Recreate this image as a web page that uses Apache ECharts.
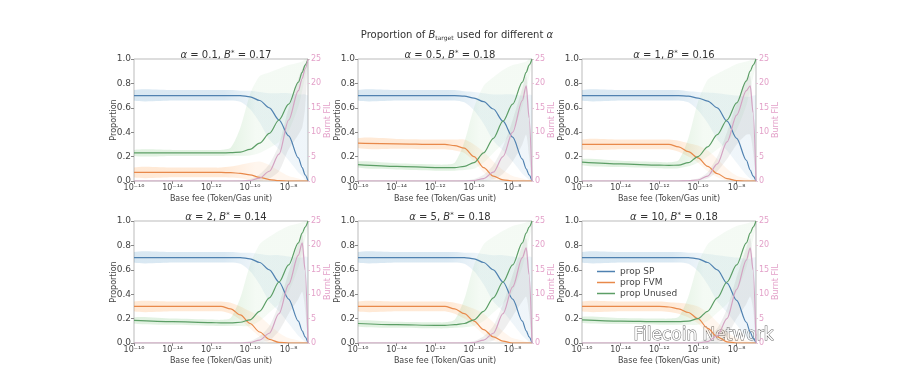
<!DOCTYPE html>
<html>
<head>
<meta charset="utf-8">
<script src="https://cdn.jsdelivr.net/npm/echarts@6/dist/echarts.min.js"></script>
<style>
html, body { margin: 0; background: #fff; }
#main { width: 909px; height: 376px; }
</style>
</head>
<body>
<div id="main"></div>
<script>
// x = exponent of base fee (10^x Token/Gas unit)
var xs = [-16, -14, -12, -11.5, -11, -10.5, -10, -9.5, -9, -8.5, -8, -7.5, -7.3, -7.15, -7];
var alphas = ['0.1', '0.5', '1', '2', '5', '10'];
var bStar = ['0.17', '0.18', '0.16', '0.14', '0.18', '0.18'];

// 每个子图一行
var propSP = [
    [0.70, 0.70, 0.70, 0.70, 0.70, 0.70, 0.69, 0.66, 0.60, 0.50, 0.37, 0.19, 0.11, 0.05, 0.00],
    [0.70, 0.70, 0.70, 0.70, 0.70, 0.695, 0.68, 0.65, 0.59, 0.49, 0.36, 0.18, 0.10, 0.05, 0.00],
    [0.70, 0.70, 0.70, 0.70, 0.70, 0.695, 0.68, 0.655, 0.60, 0.49, 0.35, 0.17, 0.09, 0.04, 0.00],
    [0.70, 0.70, 0.70, 0.70, 0.70, 0.70, 0.69, 0.66, 0.60, 0.50, 0.36, 0.18, 0.10, 0.05, 0.00],
    [0.70, 0.70, 0.70, 0.70, 0.70, 0.70, 0.69, 0.66, 0.60, 0.50, 0.36, 0.18, 0.10, 0.05, 0.00],
    [0.70, 0.70, 0.70, 0.70, 0.70, 0.70, 0.69, 0.66, 0.60, 0.49, 0.35, 0.17, 0.09, 0.04, 0.00]
];
var propFVM = [
    [0.07, 0.07, 0.07, 0.07, 0.068, 0.063, 0.05, 0.03, 0.012, 0.003, 0, 0, 0, 0, 0],
    [0.31, 0.305, 0.30, 0.30, 0.29, 0.27, 0.20, 0.11, 0.04, 0.01, 0, 0, 0, 0, 0],
    [0.30, 0.30, 0.30, 0.30, 0.28, 0.24, 0.19, 0.12, 0.06, 0.02, 0.003, 0, 0, 0, 0],
    [0.30, 0.30, 0.30, 0.30, 0.28, 0.23, 0.16, 0.09, 0.03, 0.005, 0, 0, 0, 0, 0],
    [0.30, 0.30, 0.30, 0.30, 0.28, 0.24, 0.18, 0.11, 0.05, 0.015, 0, 0, 0, 0, 0],
    [0.30, 0.30, 0.30, 0.295, 0.28, 0.25, 0.20, 0.12, 0.05, 0.01, 0, 0, 0, 0, 0]
];
var propUnused = [
    [0.23, 0.23, 0.23, 0.23, 0.232, 0.237, 0.26, 0.31, 0.39, 0.50, 0.63, 0.81, 0.89, 0.95, 1.0],
    [0.135, 0.12, 0.11, 0.11, 0.11, 0.12, 0.15, 0.23, 0.35, 0.49, 0.63, 0.81, 0.89, 0.95, 1.0],
    [0.155, 0.14, 0.13, 0.128, 0.13, 0.15, 0.20, 0.28, 0.38, 0.50, 0.64, 0.82, 0.90, 0.95, 1.0],
    [0.185, 0.175, 0.167, 0.165, 0.165, 0.17, 0.19, 0.26, 0.37, 0.50, 0.64, 0.82, 0.90, 0.95, 1.0],
    [0.16, 0.15, 0.145, 0.145, 0.15, 0.16, 0.19, 0.26, 0.37, 0.50, 0.64, 0.82, 0.90, 0.95, 1.0],
    [0.19, 0.18, 0.175, 0.175, 0.175, 0.18, 0.20, 0.26, 0.37, 0.50, 0.64, 0.82, 0.90, 0.95, 1.0]
];
var burntFIL = [
    [0, 0, 0, 0, 0, 0, 0.1, 0.6, 2, 5.5, 12.5, 18.5, 21, 23, 25],
    [0, 0, 0, 0, 0, 0, 0.1, 0.5, 1.8, 5, 10, 16.5, 19.5, 13, 0],
    [0, 0, 0, 0, 0, 0.05, 0.2, 1, 3.5, 8, 13.5, 18.5, 19.5, 14, 0],
    [0, 0, 0, 0, 0, 0, 0.1, 0.6, 2, 6, 12, 18, 20.5, 15, 0],
    [0, 0, 0, 0, 0, 0, 0.1, 0.6, 2, 6, 11.5, 17.5, 19.5, 14, 0],
    [0, 0, 0, 0, 0, 0, 0, 0.3, 1.5, 5, 11, 17, 19.5, 15, 0]
];

// 置信带宽度 (below / above the mean)
var spLo = [0.04, 0.04, 0.04, 0.04, 0.04, 0.05, 0.1, 0.18, 0.26, 0.24, 0.2, 0.12, 0.07, 0.04, 0];
var spHi = [0.045, 0.045, 0.045, 0.045, 0.045, 0.04, 0.05, 0.07, 0.12, 0.22, 0.35, 0.52, 0.6, 0.66, 0.7];
var fvmLo = [0.04, 0.04, 0.04, 0.04, 0.04, 0.04, 0.04, 0.04, 0.03, 0.02, 0, 0, 0, 0, 0];
var fvmHi = [0.04, 0.04, 0.04, 0.04, 0.05, 0.07, 0.1, 0.13, 0.12, 0.08, 0.04, 0.02, 0.01, 0.01, 0];
var unLo = [0.025, 0.025, 0.025, 0.025, 0.025, 0.03, 0.05, 0.08, 0.12, 0.18, 0.22, 0.2, 0.15, 0.1, 0.05];
var unHi = [0.025, 0.025, 0.025, 0.025, 0.04, 0.2, 0.45, 0.55, 0.5, 0.42, 0.32, 0.16, 0.09, 0.05, 0];
var burnLo = [0, 0, 0, 0, 0, 0, 0.1, 0.5, 1.5, 3.5, 6, 9, 10, 8, 0];
var burnHi = [0, 0, 0, 0, 0, 0.1, 0.3, 0.8, 1.5, 2, 2.5, 2.5, 2, 1, 0];

var lefts = [134, 358, 582, 134, 358, 582];
var tops = [59, 59, 59, 221, 221, 221];

var cSP = '#4f81b0', cFVM = '#e8894a', cUn = '#5c9e66', cBurn = '#d4a3c3', cPink = '#e3a1c9';

var chart = echarts.init(document.getElementById('main'));

function sup(n) {
    var map = {'-': '\u207b', '0': '\u2070', '1': '\u00b9', '2': '\u00b2', '3': '\u00b3', '4': '\u2074',
               '5': '\u2075', '6': '\u2076', '7': '\u2077', '8': '\u2078', '9': '\u2079'};
    return String(n).split('').map(function (c) { return map[c] || c; }).join('');
}

function pts(vals) {
    return xs.map(function (x, k) { return [x, vals[k]]; });
}

// 左边颜色较深，过渡区变淡
function fade(rgb, a0, a1) {
    return new echarts.graphic.LinearGradient(0, 0, 1, 0, [
        {offset: 0, color: 'rgba(' + rgb + ',' + a0 + ')'},
        {offset: 0.52, color: 'rgba(' + rgb + ',' + a0 + ')'},
        {offset: 0.7, color: 'rgba(' + rgb + ',' + a1 + ')'},
        {offset: 1, color: 'rgba(' + rgb + ',' + a1 + ')'}
    ]);
}

// 置信带: 一个多边形 (上边界 + 反向的下边界)
function band(i, mean, lo, hi, cap, fill, yIdx) {
    var upper = xs.map(function (x, k) { return [x, Math.min(cap, mean[k] + hi[k])]; });
    var lower = xs.map(function (x, k) { return [x, Math.max(0, mean[k] - lo[k])]; });
    return {
        type: 'custom', xAxisIndex: i, yAxisIndex: yIdx, silent: true, z: 1, clip: true,
        data: [[-16, 0]],
        renderItem: function (params, api) {
            var p = upper.concat(lower.slice().reverse()).map(function (d) { return api.coord(d); });
            return {type: 'polygon', shape: {points: p, smooth: 0.25}, style: {fill: fill}};
        }
    };
}

function line(i, name, vals, color, yIdx) {
    return {
        name: name, type: 'line', xAxisIndex: i, yAxisIndex: yIdx, data: pts(vals),
        symbol: 'none', smooth: 0.3, smoothMonotone: 'x', z: 3,
        lineStyle: {width: 1.2, color: color}, itemStyle: {color: color}
    };
}

var grids = [], xAxes = [], yAxes = [], series = [];
var titles = [{
    text: 'Proportion of {i|B}{sub|target} used for different {i|\u03b1}',
    left: 452, top: 24, textAlign: 'center',
    textStyle: {
        fontSize: 10, fontWeight: 'normal', color: '#333',
        rich: {
            i: {fontSize: 10, fontStyle: 'italic', color: '#333'},
            sub: {fontSize: 6, color: '#333', verticalAlign: 'bottom', padding: [6, 0, 0, 0]}
        }
    }
}];

for (var i = 0; i < 6; i++) {
    grids.push({left: lefts[i], top: tops[i], width: 174, height: 122, show: true,
                borderColor: '#bbb', borderWidth: 1, backgroundColor: 'transparent'});
    xAxes.push({
        gridIndex: i, type: 'value', min: -16, max: -7, interval: 2,
        name: 'Base fee (Token/Gas unit)', nameLocation: 'middle', nameGap: 14, nameMoveOverlap: false,
        nameTextStyle: {fontSize: 8, color: '#444'},
        axisLine: {show: false}, splitLine: {show: false},
        axisTick: {show: true, length: 3, lineStyle: {color: '#888'}},
        axisLabel: {fontSize: 8, margin: 3, color: '#444', showMaxLabel: false,
                    formatter: function (v) { return '10' + sup(v); }}
    });
    yAxes.push({
        gridIndex: i, type: 'value', min: 0, max: 1, interval: 0.2, position: 'left',
        name: 'Proportion', nameLocation: 'middle', nameGap: 16, nameMoveOverlap: false,
        nameTextStyle: {fontSize: 8, color: '#444'},
        axisLine: {show: false}, splitLine: {show: false},
        axisTick: {show: true, length: 3, lineStyle: {color: '#888'}},
        axisLabel: {fontSize: 9, margin: 3, color: '#444',
                    formatter: function (v) { return v.toFixed(1); }}
    });
    yAxes.push({
        gridIndex: i, type: 'value', min: 0, max: 25, interval: 5, position: 'right',
        name: 'Burnt FIL', nameLocation: 'middle', nameGap: 16, nameMoveOverlap: false,
        nameTextStyle: {fontSize: 8, color: cPink},
        axisLine: {show: false}, splitLine: {show: false},
        axisTick: {show: true, length: 2, lineStyle: {color: '#e6c6d8'}},
        axisLabel: {fontSize: 8, margin: 3, color: cPink}
    });
    titles.push({
        text: '{i|\u03b1} = ' + alphas[i] + ', {i|B}{s|*} = ' + bStar[i],
        left: lefts[i] + 87, top: tops[i] - 14, textAlign: 'center',
        textStyle: {
            fontSize: 10, fontWeight: 'normal', color: '#333',
            rich: {
                i: {fontSize: 10, fontStyle: 'italic', color: '#333'},
                s: {fontSize: 7, color: '#333', verticalAlign: 'top', padding: [0, 0, 4, 0]}
            }
        }
    });

    var yl = 2 * i, yr = 2 * i + 1;
    series.push(band(i, propSP[i], spLo, spHi, 1, fade('31,119,180', 0.17, 0.07), yl));
    series.push(band(i, propFVM[i], fvmLo, fvmHi, 1, fade('255,127,14', 0.17, 0.07), yl));
    series.push(band(i, propUnused[i], unLo, unHi, 1, fade('44,160,44', 0.14, 0.05), yl));
    series.push(band(i, burntFIL[i], burnLo, burnHi, 25, 'rgba(140,140,140,0.14)', yr));
    series.push(line(i, 'prop SP', propSP[i], cSP, yl));
    series.push(line(i, 'prop FVM', propFVM[i], cFVM, yl));
    series.push(line(i, 'prop Unused', propUnused[i], cUn, yl));
    series.push(line(i, 'Burnt FIL', burntFIL[i], cBurn, yr));
}

var option = {
    animation: false,
    backgroundColor: '#fff',
    textStyle: {fontFamily: 'DejaVu Sans'},
    title: titles,
    legend: {
        data: ['prop SP', 'prop FVM', 'prop Unused'],
        orient: 'vertical', left: 592, top: 262, icon: 'rect',
        itemWidth: 18, itemHeight: 1.5, itemGap: 2,
        textStyle: {fontSize: 9, color: '#444'}
    },
    grid: grids,
    xAxis: xAxes,
    yAxis: yAxes,
    series: series,
    graphic: [{
        type: 'text', left: 633, top: 327, silent: true,
        style: {text: 'Filecoin Network', fontSize: 17, fontFamily: 'DejaVu Sans',
                fill: '#fff', stroke: '#666', lineWidth: 1}
    }]
};
chart.setOption(option);
</script>
</body>
</html>
